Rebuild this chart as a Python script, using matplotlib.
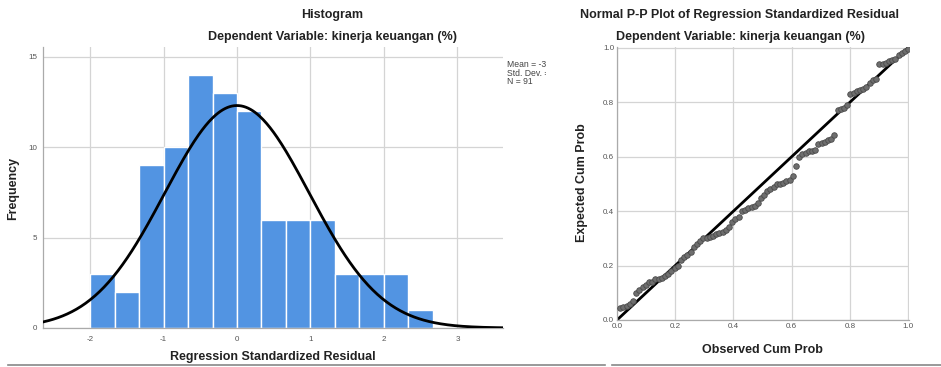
import numpy as np
import matplotlib
matplotlib.use("Agg")
import matplotlib.pyplot as plt
from matplotlib.lines import Line2D

plt.rcParams['font.family'] = ['Liberation Sans', 'DejaVu Sans']

# ---------------- data ----------------
bin_edges = [-2.0, -1.6667, -1.3333, -1.0, -0.6667, -0.3333, 0.0, 0.3333,
             0.6667, 1.0, 1.3333, 1.6667, 2.0, 2.3333, 2.6667]
bin_counts = [3, 2, 9, 10, 14, 13, 12, 6, 6, 6, 3, 3, 3, 1]
res_mean = 0.0
res_sd = 0.983
res_n = 91
hist_xticks = [-2, -1, 0, 1, 2, 3]
hist_yticks = [0, 5, 10, 15]

pp_observed = [0.011, 0.022, 0.033, 0.044, 0.055, 0.066, 0.077, 0.088, 0.099, 0.110,
               0.121, 0.132, 0.143, 0.154, 0.165, 0.176, 0.187, 0.198, 0.209, 0.220,
               0.231, 0.242, 0.253, 0.264, 0.275, 0.286, 0.297, 0.308, 0.319, 0.330,
               0.341, 0.352, 0.363, 0.374, 0.385, 0.396, 0.407, 0.418, 0.429, 0.440,
               0.451, 0.462, 0.473, 0.484, 0.495, 0.505, 0.516, 0.527, 0.538, 0.549,
               0.560, 0.571, 0.582, 0.593, 0.604, 0.615, 0.626, 0.637, 0.648, 0.659,
               0.670, 0.681, 0.692, 0.703, 0.714, 0.725, 0.736, 0.747, 0.758, 0.769,
               0.780, 0.791, 0.802, 0.813, 0.824, 0.835, 0.846, 0.857, 0.868, 0.879,
               0.890, 0.901, 0.912, 0.923, 0.934, 0.945, 0.956, 0.967, 0.978, 0.989,
               1.000]
pp_expected = [0.045, 0.047, 0.050, 0.060, 0.070, 0.100, 0.110, 0.120, 0.130, 0.140,
               0.140, 0.150, 0.150, 0.155, 0.160, 0.170, 0.180, 0.190, 0.200, 0.220,
               0.230, 0.240, 0.250, 0.270, 0.280, 0.290, 0.300, 0.300, 0.305, 0.310,
               0.315, 0.320, 0.325, 0.330, 0.340, 0.360, 0.370, 0.380, 0.400, 0.405,
               0.410, 0.415, 0.420, 0.430, 0.450, 0.460, 0.475, 0.480, 0.490, 0.500,
               0.500, 0.505, 0.510, 0.515, 0.530, 0.565, 0.600, 0.610, 0.615, 0.620,
               0.620, 0.625, 0.645, 0.650, 0.655, 0.660, 0.665, 0.680, 0.770, 0.775,
               0.780, 0.790, 0.830, 0.835, 0.840, 0.845, 0.850, 0.855, 0.870, 0.880,
               0.885, 0.940, 0.940, 0.945, 0.950, 0.955, 0.960, 0.975, 0.980, 0.990,
               0.995]
pp_ticks = [0.0, 0.2, 0.4, 0.6, 0.8, 1.0]

# ---------------- figure ----------------
W, H = 941, 367
fig = plt.figure(figsize=(W / 100, H / 100), dpi=100)

def ax_rect(l, t, r, b):
    return [l / W, 1 - b / H, (r - l) / W, (b - t) / H]

def fx(px):
    return px / W

def fy(py):
    return 1 - py / H

grid_c = '#d4d4d4'
tick_c = '#555555'
bar_c = '#5294e2'
lab_c = '#222222'

# Histogram
ax = fig.add_axes(ax_rect(43, 47, 503, 328))
ax.set_xlim(-2.64, 3.62)
ax.set_ylim(0, 15.55)
widths = np.diff(bin_edges)
ax.bar(bin_edges[:-1], bin_counts, width=widths, align='edge', color=bar_c,
       edgecolor='white', linewidth=1.0, zorder=2)
xs = np.linspace(-2.64, 3.62, 400)
binw = widths.mean()
pdf = np.exp(-0.5 * ((xs - res_mean) / res_sd) ** 2) / (res_sd * np.sqrt(2 * np.pi))
ax.plot(xs, res_n * binw * pdf, color='black', lw=2.0, zorder=3)
ax.set_xticks(hist_xticks)
ax.set_xticklabels([str(v) for v in hist_xticks])
ax.set_yticks(hist_yticks)
ax.grid(True, color=grid_c, lw=0.9, zorder=0)
ax.set_axisbelow(True)
for s in ['top', 'right']:
    ax.spines[s].set_visible(False)
for s in ['left', 'bottom']:
    ax.spines[s].set_color('#aaaaaa')
    ax.spines[s].set_linewidth(0.9)
ax.tick_params(axis='x', length=0, labelsize=5.8, labelcolor=tick_c, pad=6)
ax.tick_params(axis='y', length=0, labelsize=5.8, labelcolor=tick_c, pad=4)

fig.text(fx(273), fy(357), 'Regression Standardized Residual', ha='center', va='center',
         fontsize=9, fontweight='bold', color=lab_c)
fig.text(fx(13), fy(188), 'Frequency', ha='center', va='center', rotation=90,
         fontsize=9, fontweight='bold', color=lab_c)

fig.text(fx(332), fy(15), 'Histogram', ha='center', va='center',
         fontsize=9, fontweight='bold', color=lab_c)
fig.text(fx(332), fy(37), 'Dependent Variable: kinerja keuangan (%)', ha='center',
         va='center', fontsize=9, fontweight='bold', color=lab_c)

# clipped stats legend
lax = fig.add_axes(ax_rect(507, 60, 546, 90))
lax.set_axis_off()
lax.set_xlim(0, 1)
lax.set_ylim(0, 1)
lax.text(0.0, 1.0, 'Mean = -3.21E-16\nStd. Dev. = 0.983\nN = 91', ha='left', va='top',
         fontsize=6.2, color='#444444', linespacing=0.95, clip_on=True,
         transform=lax.transAxes)

# P-P plot
bx = fig.add_axes(ax_rect(617, 47, 909, 320))
bx.set_xlim(0, 1.003)
bx.set_ylim(0, 1.003)
bx.plot([0, 1], [0, 1], color='black', lw=2.0, zorder=2)
bx.scatter(pp_observed, pp_expected, s=16, facecolor='#6e6e6e', edgecolor='#4a4a4a',
           linewidths=0.6, zorder=3)
bx.set_xticks(pp_ticks)
bx.set_yticks(pp_ticks)
bx.set_xticklabels(['%.1f' % v for v in pp_ticks])
bx.set_yticklabels(['%.1f' % v for v in pp_ticks])
bx.grid(True, color=grid_c, lw=0.9, zorder=0)
bx.set_axisbelow(True)
for s in ['top', 'right']:
    bx.spines[s].set_visible(False)
for s in ['left', 'bottom']:
    bx.spines[s].set_color('#aaaaaa')
    bx.spines[s].set_linewidth(0.9)
bx.tick_params(length=0, labelsize=5.8, labelcolor=tick_c, pad=2)

fig.text(fx(762), fy(350), 'Observed Cum Prob', ha='center', va='center',
         fontsize=9, fontweight='bold', color=lab_c)
fig.text(fx(582), fy(183), 'Expected Cum Prob', ha='center', va='center', rotation=90,
         fontsize=9, fontweight='bold', color=lab_c)

fig.text(fx(740), fy(15), 'Normal P-P Plot of Regression Standardized Residual',
         ha='center', va='center', fontsize=9, fontweight='bold', color=lab_c)
fig.text(fx(740), fy(37), 'Dependent Variable: kinerja keuangan (%)', ha='center',
         va='center', fontsize=9, fontweight='bold', color=lab_c)

# bottom separator lines
fig.add_artist(Line2D([fx(8), fx(605)], [fy(365), fy(365)], color='#888888', lw=1.2))
fig.add_artist(Line2D([fx(612), 1.0], [fy(365), fy(365)], color='#888888', lw=1.2))

fig.savefig('out.png', dpi=100)
